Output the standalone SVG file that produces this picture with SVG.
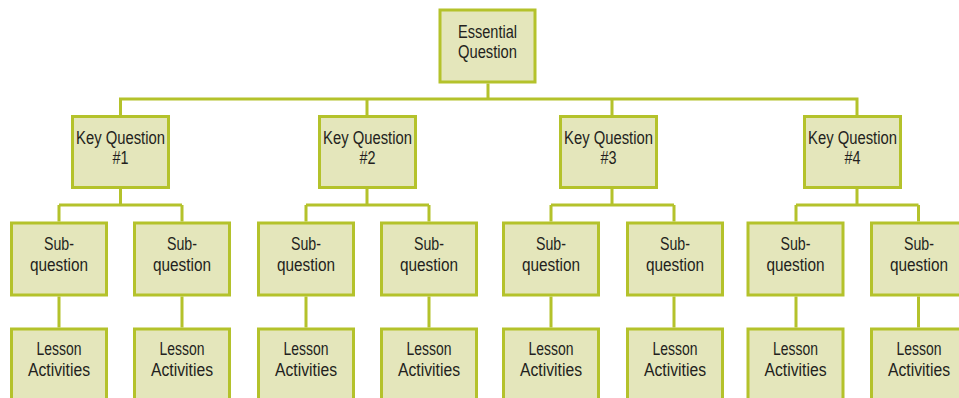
<svg xmlns="http://www.w3.org/2000/svg" width="959" height="398" viewBox="0 0 959 398">
<style>
.box{fill:#e4e6bb;stroke:#b4c22b;stroke-width:3}
.ln{fill:none;stroke:#b4c22b;stroke-width:3}
text{font-family:"Liberation Sans",Arial,sans-serif;font-size:17.5px;fill:#231f20;text-anchor:middle}
</style>
<rect width="959" height="398" fill="#ffffff"/>
<g id="connectors">
<path class="ln" d="M488 83.5V99 M119 99H858.5 M120.5 99V115 M367 99V115 M612 99V115 M857 99V115"/>
<path class="ln" d="M120.5 189V205 M59 205H182 M59 205V221.5 M182 205V221.5"/>
<path class="ln" d="M367 189V205 M306 205H429 M306 205V221.5 M429 205V221.5"/>
<path class="ln" d="M612 189V205 M551 205H674 M551 205V221.5 M674 205V221.5"/>
<path class="ln" d="M857 189V205 M796 205H918.5 M796 205V221.5 M918.5 205V221.5"/>
<path class="ln" d="M59 296.5V327.5 M182 296.5V327.5 M306 296.5V327.5 M429 296.5V327.5 M551 296.5V327.5 M674 296.5V327.5 M796 296.5V327.5 M918.5 296.5V327.5"/>
</g>
<g id="essential"><rect class="box" x="440" y="10" width="95" height="72"/><text x="487.5" y="37.5" textLength="59" lengthAdjust="spacingAndGlyphs">Essential</text><text x="487.5" y="57.5" textLength="59" lengthAdjust="spacingAndGlyphs">Question</text></g>
<g id="key1"><rect class="box" x="72.5" y="116.5" width="96" height="71"/><text x="120.5" y="144" textLength="89" lengthAdjust="spacingAndGlyphs">Key Question</text><text x="120.5" y="164" textLength="16" lengthAdjust="spacingAndGlyphs">#1</text></g>
<g id="key2"><rect class="box" x="319.5" y="116.5" width="96" height="71"/><text x="367.5" y="144" textLength="89" lengthAdjust="spacingAndGlyphs">Key Question</text><text x="367.5" y="164" textLength="16" lengthAdjust="spacingAndGlyphs">#2</text></g>
<g id="key3"><rect class="box" x="560.5" y="116.5" width="96" height="71"/><text x="608.5" y="144" textLength="89" lengthAdjust="spacingAndGlyphs">Key Question</text><text x="608.5" y="164" textLength="16" lengthAdjust="spacingAndGlyphs">#3</text></g>
<g id="key4"><rect class="box" x="804.5" y="116.5" width="96" height="71"/><text x="852.5" y="144" textLength="89" lengthAdjust="spacingAndGlyphs">Key Question</text><text x="852.5" y="164" textLength="16" lengthAdjust="spacingAndGlyphs">#4</text></g>
<g id="sub1"><rect class="box" x="11.5" y="223" width="95" height="72"/><text x="59" y="250" textLength="30" lengthAdjust="spacingAndGlyphs">Sub-</text><text x="59" y="271" textLength="58" lengthAdjust="spacingAndGlyphs">question</text></g>
<g id="sub2"><rect class="box" x="134.5" y="223" width="95" height="72"/><text x="182" y="250" textLength="30" lengthAdjust="spacingAndGlyphs">Sub-</text><text x="182" y="271" textLength="58" lengthAdjust="spacingAndGlyphs">question</text></g>
<g id="sub3"><rect class="box" x="258.5" y="223" width="95" height="72"/><text x="306" y="250" textLength="30" lengthAdjust="spacingAndGlyphs">Sub-</text><text x="306" y="271" textLength="58" lengthAdjust="spacingAndGlyphs">question</text></g>
<g id="sub4"><rect class="box" x="381.5" y="223" width="95" height="72"/><text x="429" y="250" textLength="30" lengthAdjust="spacingAndGlyphs">Sub-</text><text x="429" y="271" textLength="58" lengthAdjust="spacingAndGlyphs">question</text></g>
<g id="sub5"><rect class="box" x="503.5" y="223" width="95" height="72"/><text x="551" y="250" textLength="30" lengthAdjust="spacingAndGlyphs">Sub-</text><text x="551" y="271" textLength="58" lengthAdjust="spacingAndGlyphs">question</text></g>
<g id="sub6"><rect class="box" x="627.5" y="223" width="95" height="72"/><text x="675" y="250" textLength="30" lengthAdjust="spacingAndGlyphs">Sub-</text><text x="675" y="271" textLength="58" lengthAdjust="spacingAndGlyphs">question</text></g>
<g id="sub7"><rect class="box" x="748" y="223" width="95" height="72"/><text x="795.5" y="250" textLength="30" lengthAdjust="spacingAndGlyphs">Sub-</text><text x="795.5" y="271" textLength="58" lengthAdjust="spacingAndGlyphs">question</text></g>
<g id="sub8"><rect class="box" x="871.5" y="223" width="95" height="72"/><text x="919" y="250" textLength="30" lengthAdjust="spacingAndGlyphs">Sub-</text><text x="919" y="271" textLength="58" lengthAdjust="spacingAndGlyphs">question</text></g>
<g id="lesson1"><rect class="box" x="11.5" y="329" width="95" height="90"/><text x="59" y="355" textLength="45" lengthAdjust="spacingAndGlyphs">Lesson</text><text x="59" y="376" textLength="62" lengthAdjust="spacingAndGlyphs">Activities</text></g>
<g id="lesson2"><rect class="box" x="134.5" y="329" width="95" height="90"/><text x="182" y="355" textLength="45" lengthAdjust="spacingAndGlyphs">Lesson</text><text x="182" y="376" textLength="62" lengthAdjust="spacingAndGlyphs">Activities</text></g>
<g id="lesson3"><rect class="box" x="258.5" y="329" width="95" height="90"/><text x="306" y="355" textLength="45" lengthAdjust="spacingAndGlyphs">Lesson</text><text x="306" y="376" textLength="62" lengthAdjust="spacingAndGlyphs">Activities</text></g>
<g id="lesson4"><rect class="box" x="381.5" y="329" width="95" height="90"/><text x="429" y="355" textLength="45" lengthAdjust="spacingAndGlyphs">Lesson</text><text x="429" y="376" textLength="62" lengthAdjust="spacingAndGlyphs">Activities</text></g>
<g id="lesson5"><rect class="box" x="503.5" y="329" width="95" height="90"/><text x="551" y="355" textLength="45" lengthAdjust="spacingAndGlyphs">Lesson</text><text x="551" y="376" textLength="62" lengthAdjust="spacingAndGlyphs">Activities</text></g>
<g id="lesson6"><rect class="box" x="627.5" y="329" width="95" height="90"/><text x="675" y="355" textLength="45" lengthAdjust="spacingAndGlyphs">Lesson</text><text x="675" y="376" textLength="62" lengthAdjust="spacingAndGlyphs">Activities</text></g>
<g id="lesson7"><rect class="box" x="748" y="329" width="95" height="90"/><text x="795.5" y="355" textLength="45" lengthAdjust="spacingAndGlyphs">Lesson</text><text x="795.5" y="376" textLength="62" lengthAdjust="spacingAndGlyphs">Activities</text></g>
<g id="lesson8"><rect class="box" x="871.5" y="329" width="95" height="90"/><text x="919" y="355" textLength="45" lengthAdjust="spacingAndGlyphs">Lesson</text><text x="919" y="376" textLength="62" lengthAdjust="spacingAndGlyphs">Activities</text></g>
</svg>
